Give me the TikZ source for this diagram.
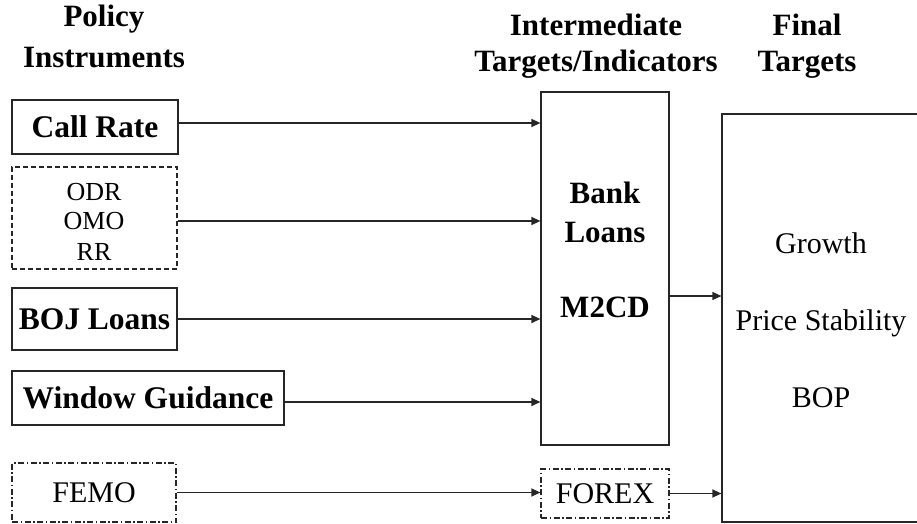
\documentclass[tikz,border=0pt]{standalone}
\usepackage{fontspec}
\setmainfont{Liberation Serif}
\usetikzlibrary{arrows.meta}
\tikzset{
  ln/.style={line width=1.2pt, draw=black!85},
  box/.style={ln, rectangle, inner sep=0pt, font=\fontsize{31.5}{36}\selectfont\bfseries},
  dbox/.style={ln, rectangle, inner sep=0pt, dash pattern=on 5pt off 3pt},
  ddbox/.style={ln, rectangle, inner sep=0pt, dash pattern=on 6pt off 2.5pt on 1.5pt off 2.5pt, font=\fontsize{30}{36}\selectfont},
  hdr/.style={anchor=base, inner sep=0pt, font=\fontsize{31}{36}\selectfont\bfseries},
  mtxt/.style={anchor=base, inner sep=0pt, font=\fontsize{31}{36}\selectfont\bfseries},
  ftxt/.style={anchor=base, inner sep=0pt, font=\fontsize{30}{36}\selectfont},
  otxt/.style={anchor=base, inner sep=0pt, font=\fontsize{26}{30}\selectfont},
  arr/.style={ln, -{Triangle[length=9pt,width=8pt]}},
}
\begin{document}
\begin{tikzpicture}[x=1pt,y=-1pt]
\useasboundingbox (0,0) rectangle (917,524);
% headers
\node[hdr] (h1a) at (104,27) {Policy};
\node[hdr] (h1b) at (104,68) {Instruments};
\node[hdr] (h2a) at (596,36) {Intermediate};
\node[hdr] (h2b) at (596,72) {Targets/Indicators};
\node[hdr] (h3a) at (807,36) {Final};
\node[hdr] (h3b) at (807,72) {Targets};
% left boxes
\node[box, minimum width=166pt, minimum height=54pt] (cr) at (95,127) {Call Rate};
\node[dbox, minimum width=165pt, minimum height=102pt] (odr) at (94.5,218) {};
\node[otxt] (t1) at (94,200) {ODR};
\node[otxt] (t2) at (94,229) {OMO};
\node[otxt] (t3) at (94,260) {RR};
\node[box, minimum width=165pt, minimum height=62pt] (boj) at (94.5,319) {BOJ Loans};
\node[box, minimum width=272pt, minimum height=54pt] (wg) at (148,398) {Window Guidance};
\node[ddbox, minimum width=164pt, minimum height=59pt] (femo) at (94,492.5) {FEMO};
% middle
\node[ln, rectangle, minimum width=128pt, minimum height=353pt, inner sep=0pt] (mid) at (605,268.5) {};
\node[mtxt] (bk) at (605,203) {Bank};
\node[mtxt] (lo) at (605,242) {Loans};
\node[mtxt] (m2) at (605,317) {M2CD};
\node[ddbox, minimum width=128pt, minimum height=49pt] (fx) at (605,493.5) {FOREX};
% final
\node[ln, rectangle, minimum width=208pt, minimum height=408pt, inner sep=0pt] (fin) at (826,318) {};
\node[ftxt] (g) at (821,253) {Growth};
\node[ftxt] (ps) at (821,330) {Price Stability};
\node[ftxt] (bop) at (821,407) {BOP};
% connector start points
\coordinate (a1) at ([yshift=4pt]cr.east);
\coordinate (a2) at ([yshift=-3pt]odr.east);
\coordinate (a4) at ([yshift=-4pt]wg.east);
\coordinate (a6) at ([yshift=-27.5pt]mid.east);
% arrows
\draw[arr] (a1) -- (mid.west |- a1);
\draw[arr] (a2) -- (mid.west |- a2);
\draw[arr] (boj.east) -- (mid.west |- boj.east);
\draw[arr] (a4) -- (mid.west |- a4);
\draw[arr] (femo.east) -- (fx.west |- femo.east);
\draw[arr] (a6) -- (fin.west |- a6);
\draw[arr] (fx.east) -- (fin.west |- fx.east);
\end{tikzpicture}
\end{document}
